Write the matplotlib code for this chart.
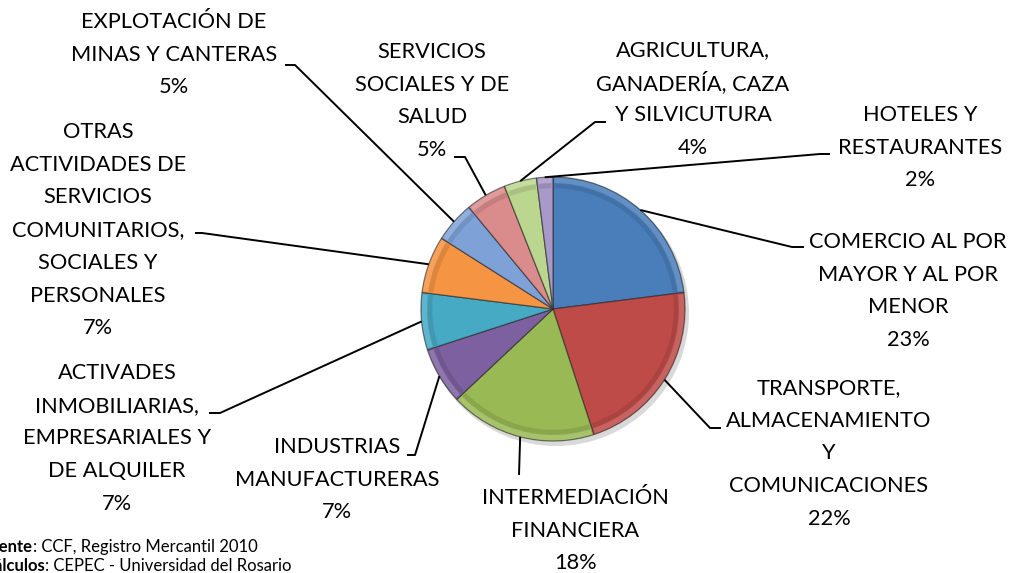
import matplotlib
matplotlib.use("Agg")
import matplotlib.pyplot as plt
import numpy as np
from matplotlib.patches import Wedge, Circle

# ---------------- data ----------------
categories = [
    "COMERCIO AL POR\nMAYOR Y AL POR\nMENOR",
    "TRANSPORTE,\nALMACENAMIENTO\nY\nCOMUNICACIONES",
    "INTERMEDIACIÓN\nFINANCIERA",
    "INDUSTRIAS\nMANUFACTURERAS",
    "ACTIVADES\nINMOBILIARIAS,\nEMPRESARIALES Y\nDE ALQUILER",
    "OTRAS\nACTIVIDADES DE\nSERVICIOS\nCOMUNITARIOS,\nSOCIALES Y\nPERSONALES",
    "EXPLOTACIÓN DE\nMINAS Y CANTERAS",
    "SERVICIOS\nSOCIALES Y DE\nSALUD",
    "AGRICULTURA,\nGANADERÍA, CAZA\nY SILVICUTURA",
    "HOTELES Y\nRESTAURANTES",
]
values = [23, 22, 18, 7, 7, 7, 5, 5, 4, 2]
colors = ["#4A7EBB", "#BE4B48", "#98B954", "#7D60A0", "#46AAC5",
          "#F59443", "#7EA2D8", "#D98C8B", "#BBD78F", "#A999C9"]
source_bold = ["Fuente", "Cálculos"]
source_text = [": CCF, Registro Mercantil 2010", ": CEPEC - Universidad del Rosario"]

# ---------------- layout (pixel space, y from top) ----------------
W, H = 1014, 573
cx, cy, R = 553, 309, 132
# label: (center x, first line y, stub elbow (x,y), stub end x)
label_layout = [
    (908, 242, (792, 247), 804),
    (829, 388, (710, 428), 721),
    (575, 498, (519, 475), None),
    (337, 447, (415, 455), 407),
    (117, 373, (220, 413), 209),
    (98, 132, (202, 233), 195),
    (174, 22, (295, 65), 285),
    (432, 52, (465, 157), 454),
    (693, 50, (595, 122), 606),
    (920, 115, (820, 154), 830),
]
pitch = 32.7
FONT = "Lato"
fs = 15.7

fig = plt.figure(figsize=(W / 100, H / 100), dpi=100)
ax = fig.add_axes([0, 0, 1, 1])
ax.set_xlim(0, W)
ax.set_ylim(0, H)
ax.axis("off")


def Y(y):
    return H - y


def shade(c, f):
    rgb = np.array(matplotlib.colors.to_rgb(c))
    if f < 1:
        return tuple(rgb * f)
    return tuple(rgb + (1 - rgb) * (f - 1))


# shadow
ax.add_patch(Circle((cx + 3, Y(cy) - 4), R + 1, color="#000000", alpha=0.15, lw=0, zorder=1))

wedges, _ = ax.pie(values, colors=colors, startangle=90, counterclock=False,
                   center=(cx, Y(cy)), radius=R,
                   wedgeprops=dict(edgecolor=(0.15, 0.15, 0.15, 0.6), linewidth=0.9),
                   frame=True)
for w in wedges:
    w.set_zorder(2)
    c = w.get_facecolor()
    t1, t2 = w.theta1, w.theta2
    # bevel: lighter outer rim, darker inner band
    ax.add_patch(Wedge((cx, Y(cy)), R - 0.8, t1 + 0.7, t2 - 0.7, width=R * 0.045,
                       facecolor=shade(c, 1.2), edgecolor="none", alpha=0.7, zorder=3))
    ax.add_patch(Wedge((cx, Y(cy)), R * 0.955, t1 + 0.7, t2 - 0.7, width=R * 0.04,
                       facecolor=shade(c, 0.82), edgecolor="none", alpha=0.55, zorder=3))

ax.set_xlim(0, W)
ax.set_ylim(0, H)
ax.set_aspect("equal")
ax.axis("off")

# labels and leader lines
for w, cat, v, (lx, ly, elbow, stub) in zip(wedges, categories, values, label_layout):
    mid = np.deg2rad((w.theta1 + w.theta2) / 2)
    ax_x = cx + R * np.cos(mid)
    ax_y = Y(cy) + R * np.sin(mid)
    xs = [ax_x, elbow[0]]
    ys = [ax_y, Y(elbow[1])]
    if stub is not None:
        xs.append(stub)
        ys.append(Y(elbow[1]))
    ax.plot(xs, ys, color="black", lw=1.4, zorder=5, solid_capstyle="butt")
    lines = cat.split("\n") + [f"{v}%"]
    for i, line in enumerate(lines):
        ax.text(lx, Y(ly + i * pitch), line, ha="center", va="center",
                fontsize=fs, family=FONT, color="black", zorder=6)

# source notes (cropped at left edge as in the original)
src_x = [33, 45]
src_y = [547, 566]
for bx, by, b, t in zip(src_x, src_y, source_bold, source_text):
    ax.text(bx, Y(by), b, ha="right", va="center", fontsize=12, family=FONT,
            fontweight="bold", color="black")
    ax.text(bx, Y(by), t, ha="left", va="center", fontsize=12, family=FONT,
            color="black")

fig.savefig("out.png", dpi=100)
